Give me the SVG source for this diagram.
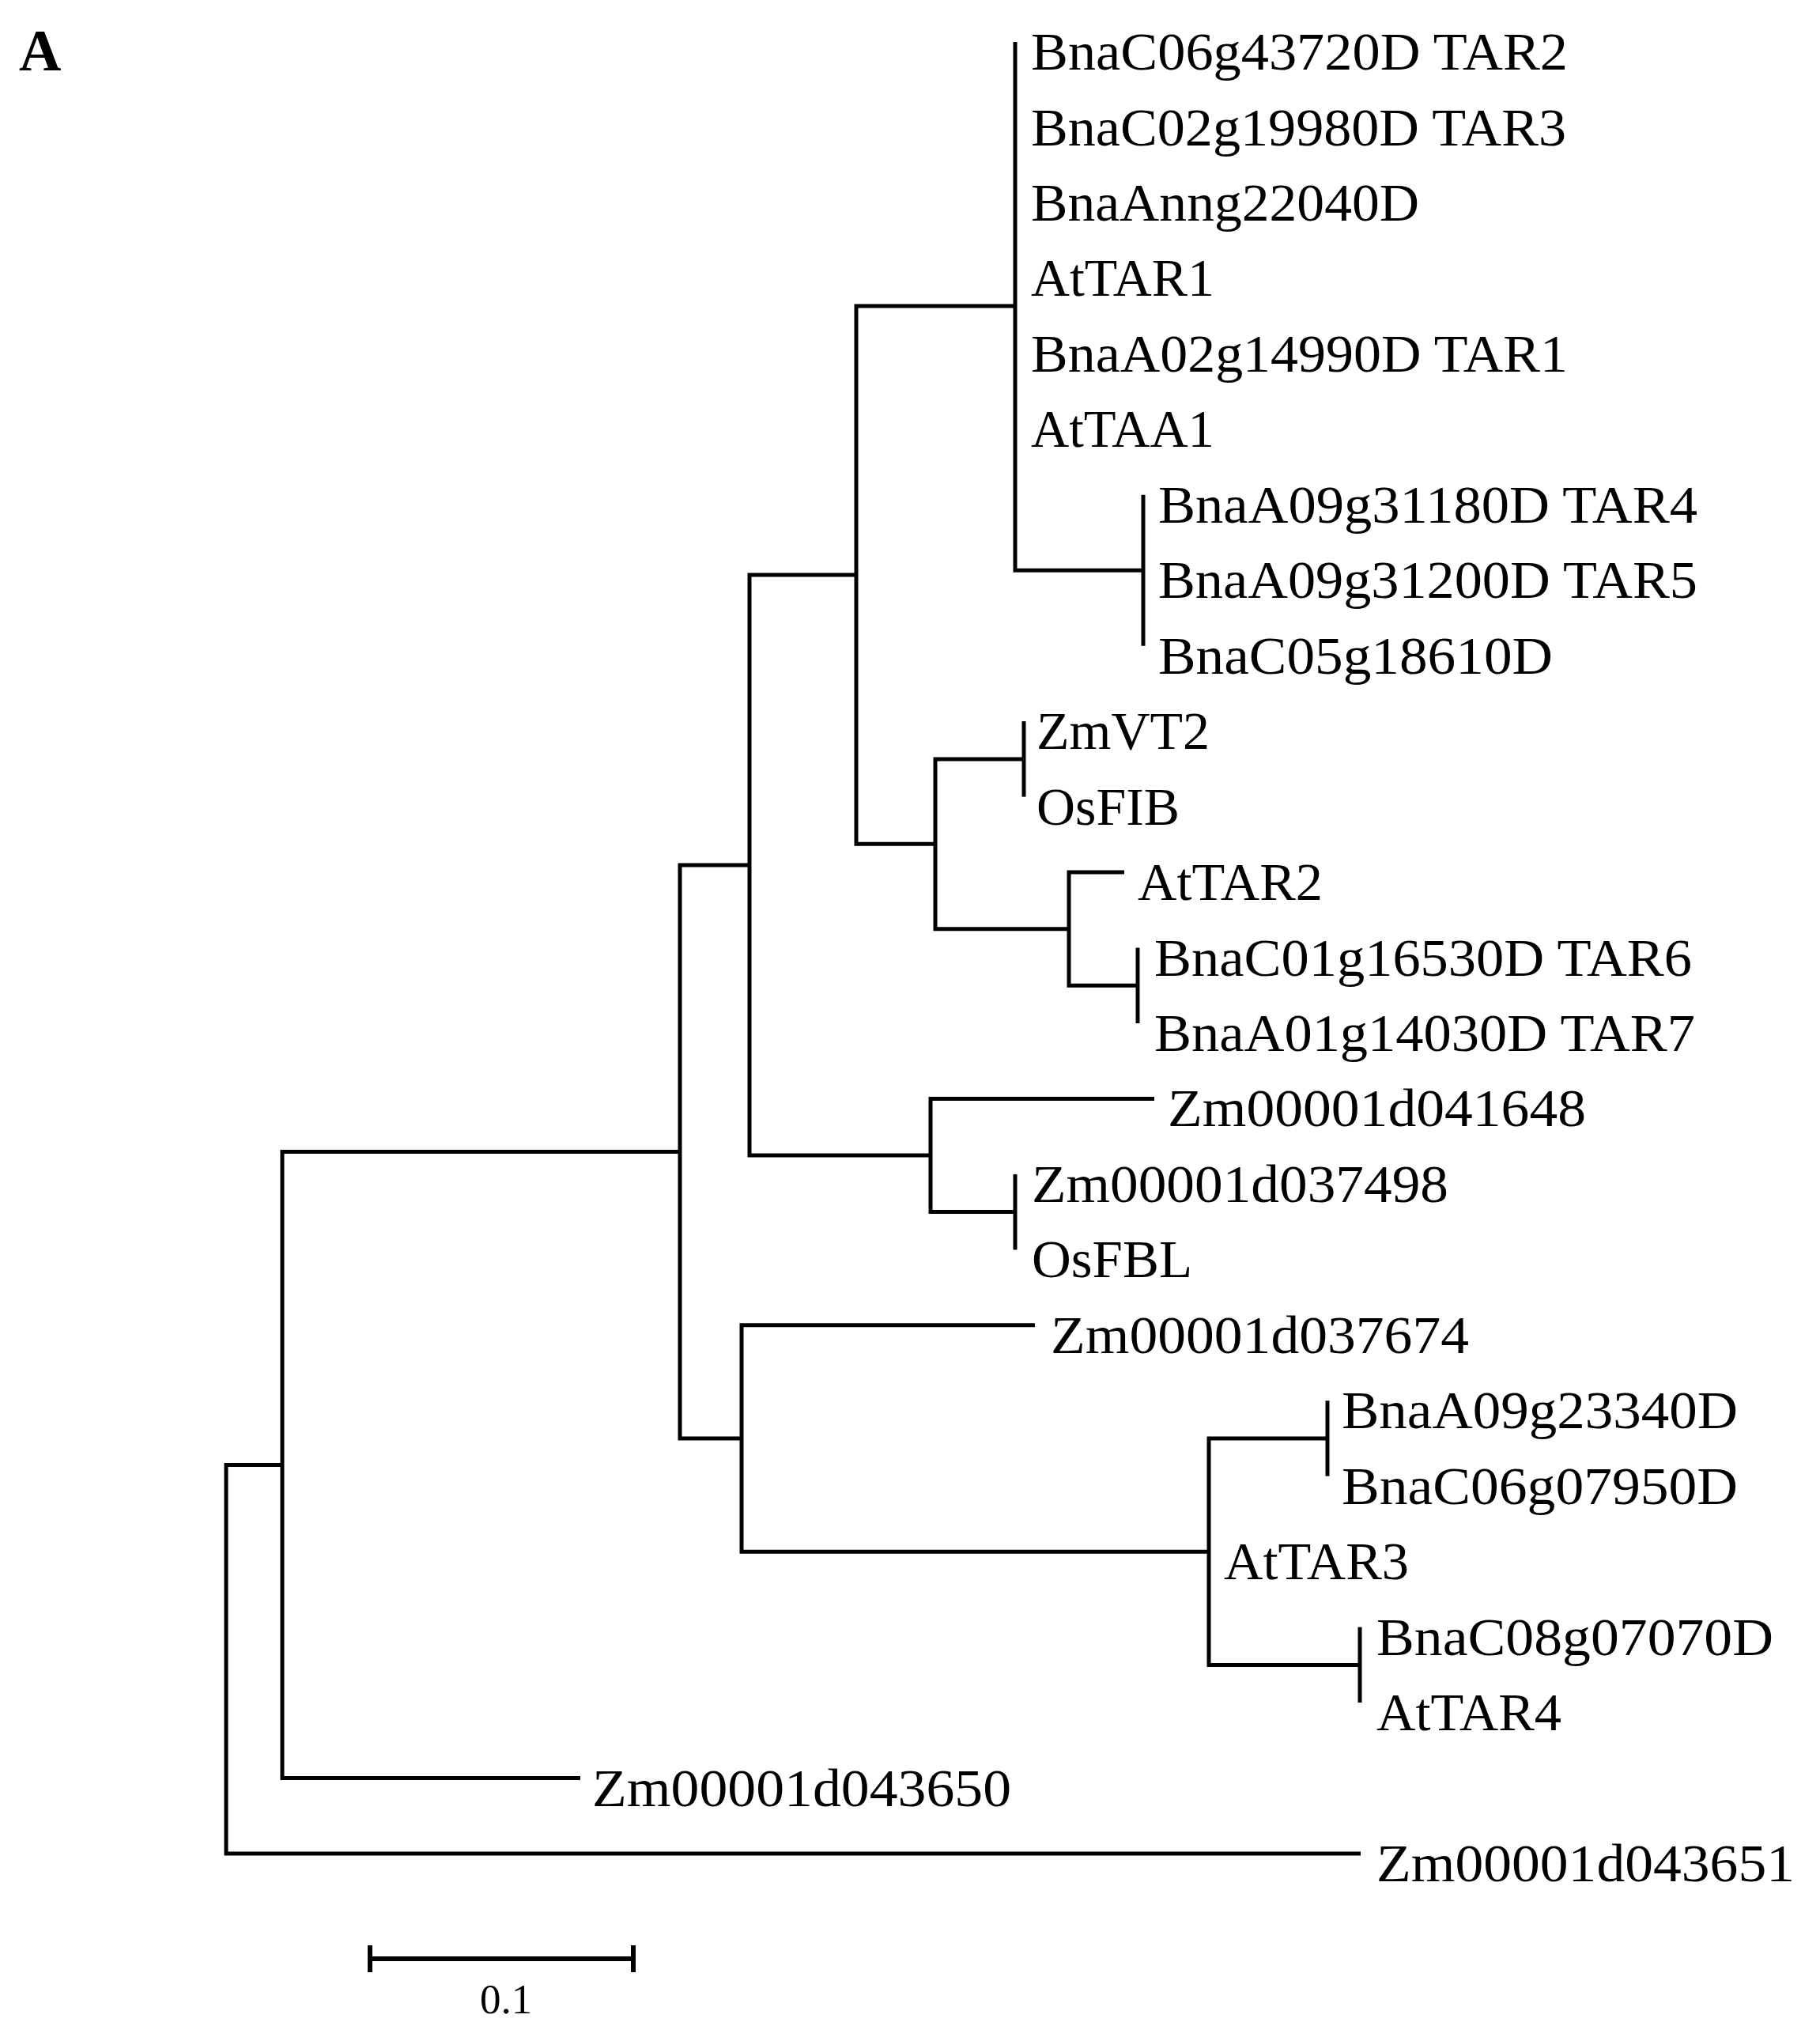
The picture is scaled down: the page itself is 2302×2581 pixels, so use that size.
<svg xmlns="http://www.w3.org/2000/svg" width="2302" height="2581" viewBox="0 0 2302 2581">
<style>
.br{fill:none;stroke:#000;stroke-width:5;stroke-linecap:butt;stroke-linejoin:miter}
.lb{font-family:"Liberation Serif","Times New Roman",serif;font-size:68px;fill:#000}
.pn{font-family:"Liberation Serif","Times New Roman",serif;font-size:74px;font-weight:bold;fill:#000}
.sc{font-family:"Liberation Serif","Times New Roman",serif;font-size:53px;fill:#000}
</style>
<rect width="2302" height="2581" fill="#fff"/>
<text class="pn" x="24" y="89">A</text>
<g id="connectors">
<path class="br" d="M357 1852.5 H286 V2344 H1721"/>
<path class="br" d="M860 1456.5 H357 V2248.6 H734"/>
<path class="br" d="M948 1094 H860 V1819 H938"/>
<path class="br" d="M1083 727 H948 V1461 H1177"/>
<path class="br" d="M1284 387 H1083 V1067.3 H1183"/>
<path class="br" d="M1284 53 V721.2 H1446"/>
<path class="br" d="M1446 625.8 V816.7"/>
<path class="br" d="M1295 959.9 H1183 V1174.7 H1352"/>
<path class="br" d="M1295 912.1 V1007.6"/>
<path class="br" d="M1422 1103.1 H1352 V1246.3 H1439"/>
<path class="br" d="M1439 1198.5 V1294"/>
<path class="br" d="M1460 1389.4 H1177 V1532.6 H1284"/>
<path class="br" d="M1284 1484.9 V1580.4"/>
<path class="br" d="M1309 1675.8 H938 V1962.2 H1529"/>
<path class="br" d="M1679 1819 H1529 V2105.4 H1720"/>
<path class="br" d="M1679 1771.3 V1866.7"/>
<path class="br" d="M1720 2057.6 V2153.1"/>
</g>
<g id="leaf1"><text class="lb" x="1304" y="88" textLength="679" lengthAdjust="spacingAndGlyphs">BnaC06g43720D TAR2</text></g>
<g id="leaf2"><text class="lb" x="1304" y="183.5" textLength="677" lengthAdjust="spacingAndGlyphs">BnaC02g19980D TAR3</text></g>
<g id="leaf3"><text class="lb" x="1304" y="279" textLength="491" lengthAdjust="spacingAndGlyphs">BnaAnng22040D</text></g>
<g id="leaf4"><text class="lb" x="1304" y="374.4" textLength="232" lengthAdjust="spacingAndGlyphs">AtTAR1</text></g>
<g id="leaf5"><text class="lb" x="1304" y="469.8" textLength="679" lengthAdjust="spacingAndGlyphs">BnaA02g14990D TAR1</text></g>
<g id="leaf6"><text class="lb" x="1304" y="565.3" textLength="232" lengthAdjust="spacingAndGlyphs">AtTAA1</text></g>
<g id="leaf7"><text class="lb" x="1465" y="660.8" textLength="682" lengthAdjust="spacingAndGlyphs">BnaA09g31180D TAR4</text></g>
<g id="leaf8"><text class="lb" x="1465" y="756.2" textLength="682" lengthAdjust="spacingAndGlyphs">BnaA09g31200D TAR5</text></g>
<g id="leaf9"><text class="lb" x="1465" y="851.7" textLength="499" lengthAdjust="spacingAndGlyphs">BnaC05g18610D</text></g>
<g id="leaf10"><text class="lb" x="1311" y="947.1" textLength="219" lengthAdjust="spacingAndGlyphs">ZmVT2</text></g>
<g id="leaf11"><text class="lb" x="1311" y="1042.6" textLength="181" lengthAdjust="spacingAndGlyphs">OsFIB</text></g>
<g id="leaf12"><text class="lb" x="1439" y="1138.1" textLength="234" lengthAdjust="spacingAndGlyphs">AtTAR2</text></g>
<g id="leaf13"><text class="lb" x="1460" y="1233.5" textLength="680" lengthAdjust="spacingAndGlyphs">BnaC01g16530D TAR6</text></g>
<g id="leaf14"><text class="lb" x="1460" y="1329" textLength="684" lengthAdjust="spacingAndGlyphs">BnaA01g14030D TAR7</text></g>
<g id="leaf15"><text class="lb" x="1477" y="1424.4" textLength="529" lengthAdjust="spacingAndGlyphs">Zm00001d041648</text></g>
<g id="leaf16"><text class="lb" x="1305" y="1519.9" textLength="527" lengthAdjust="spacingAndGlyphs">Zm00001d037498</text></g>
<g id="leaf17"><text class="lb" x="1305" y="1615.4" textLength="203" lengthAdjust="spacingAndGlyphs">OsFBL</text></g>
<g id="leaf18"><text class="lb" x="1329" y="1710.8" textLength="529" lengthAdjust="spacingAndGlyphs">Zm00001d037674</text></g>
<g id="leaf19"><text class="lb" x="1697" y="1806.3" textLength="501" lengthAdjust="spacingAndGlyphs">BnaA09g23340D</text></g>
<g id="leaf20"><text class="lb" x="1697" y="1901.7" textLength="501" lengthAdjust="spacingAndGlyphs">BnaC06g07950D</text></g>
<g id="leaf21"><text class="lb" x="1548" y="1997.2" textLength="234" lengthAdjust="spacingAndGlyphs">AtTAR3</text></g>
<g id="leaf22"><text class="lb" x="1741" y="2092.6" textLength="502" lengthAdjust="spacingAndGlyphs">BnaC08g07070D</text></g>
<g id="leaf23"><text class="lb" x="1741" y="2188.1" textLength="234" lengthAdjust="spacingAndGlyphs">AtTAR4</text></g>
<g id="leaf24"><text class="lb" x="749" y="2283.6" textLength="530" lengthAdjust="spacingAndGlyphs">Zm00001d043650</text></g>
<g id="leaf25"><text class="lb" x="1741" y="2379" textLength="529" lengthAdjust="spacingAndGlyphs">Zm00001d043651</text></g>
<g id="scalebar">
<path class="br" style="stroke-width:6" d="M468 2477 H801 M468 2460 V2494 M801 2460 V2494"/>
<text class="sc" x="640" y="2546" text-anchor="middle">0.1</text>
</g>
</svg>
